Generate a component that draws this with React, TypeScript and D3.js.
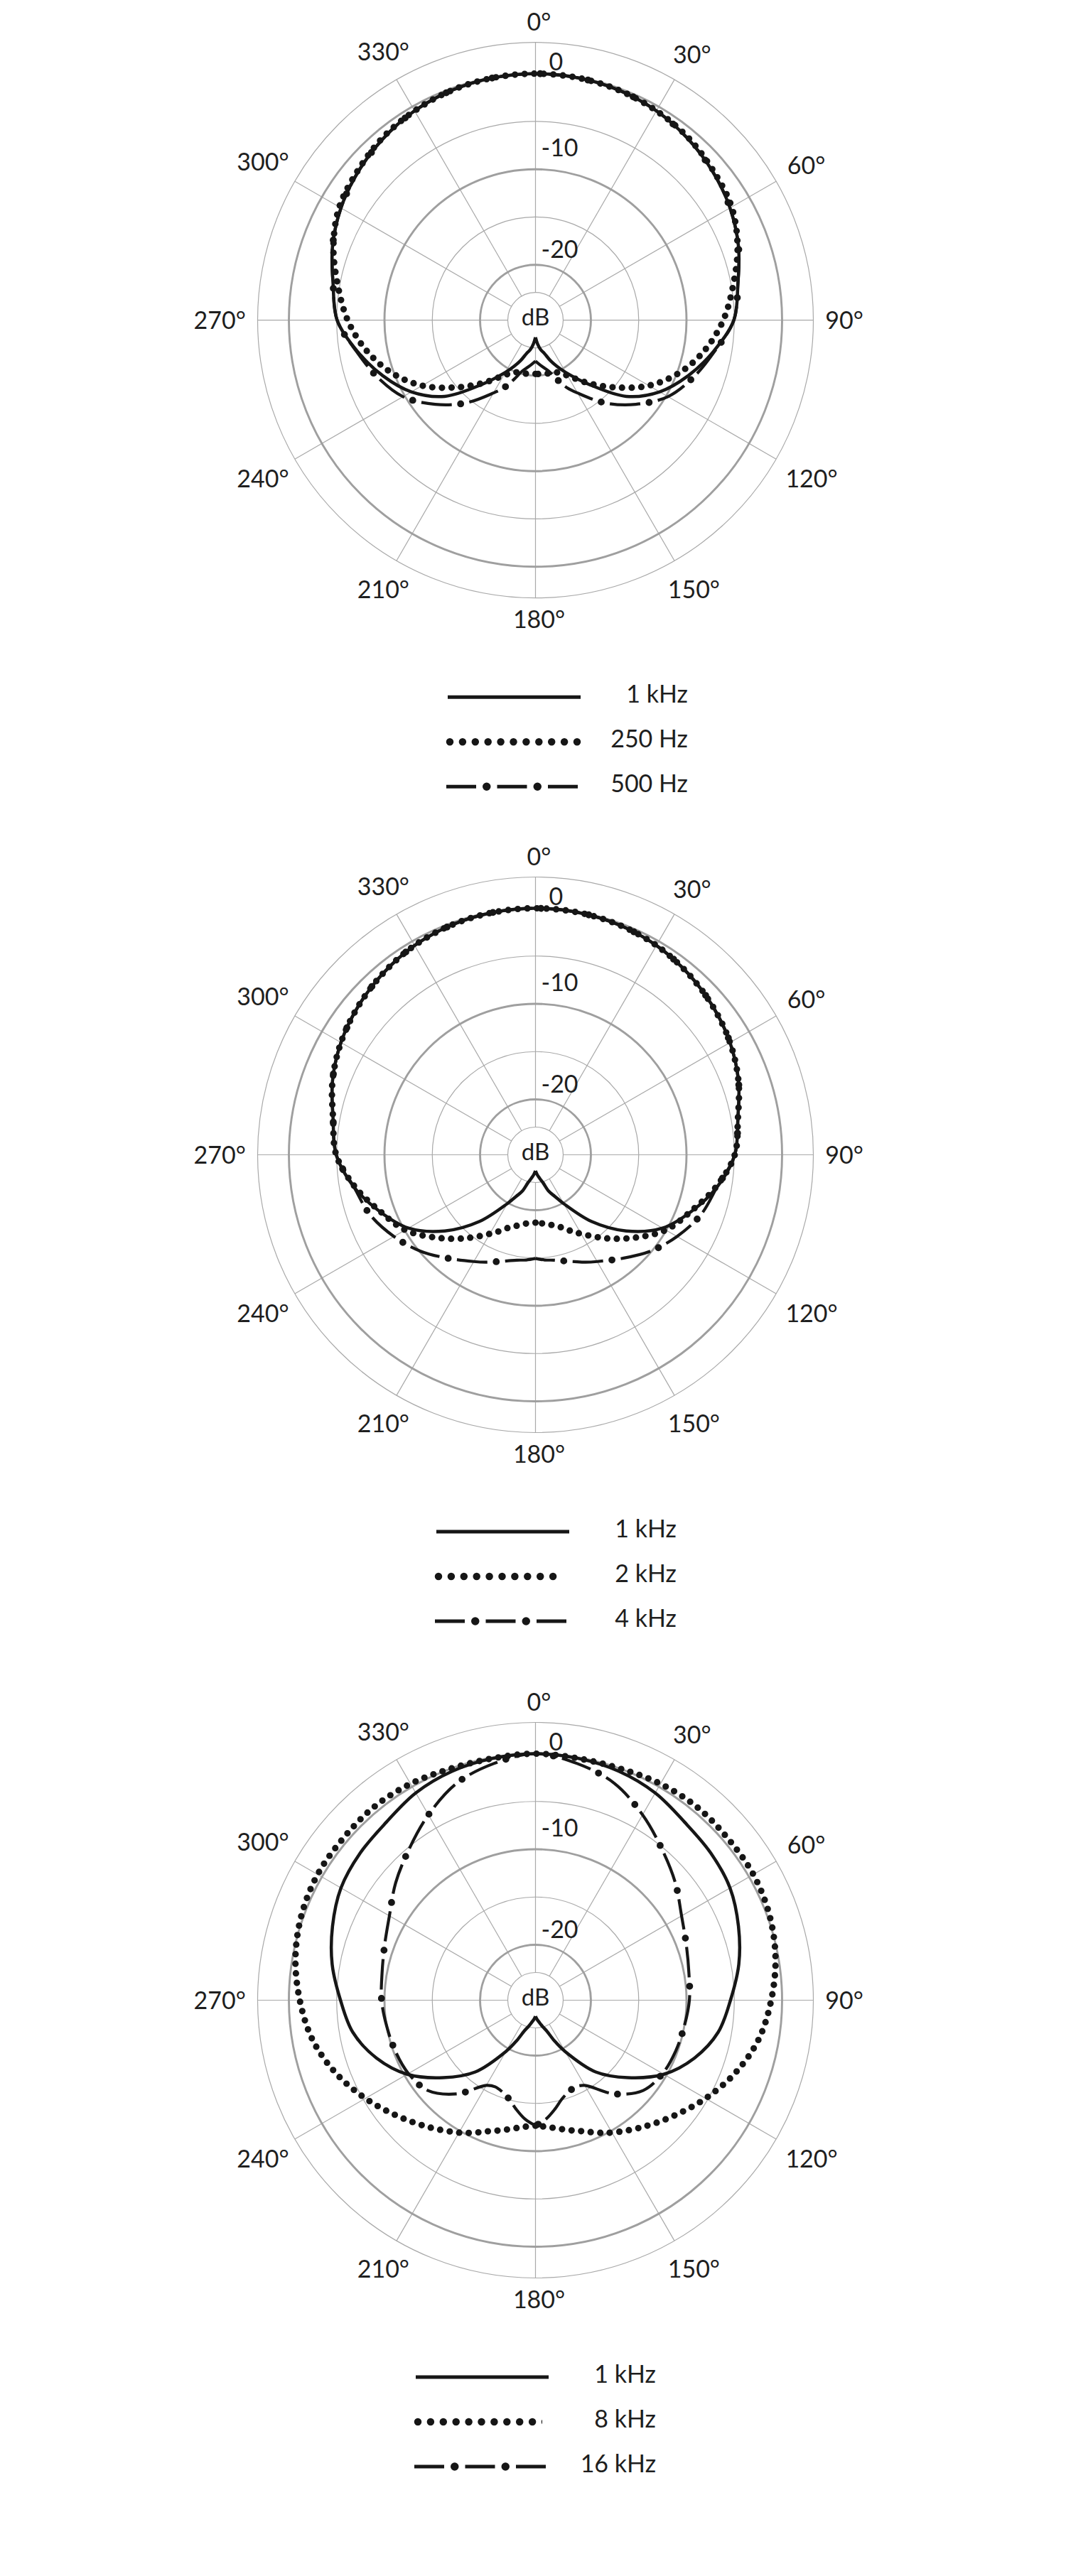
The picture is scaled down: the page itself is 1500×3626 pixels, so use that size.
import React from 'react';
import * as d3 from 'd3';

// ---------- data (dB at each angle, right half; patterns are symmetric) ----------
const ANGLES = [0, 10, 20, 30, 40, 50, 60, 70, 80, 90, 100, 110, 120, 130, 140, 150, 155, 160, 165, 170, 175, 180];

const chart1Freq1k = [0, -0.05, -0.2, -0.5, -1.0, -1.6, -2.3, -3.2, -4.3, -5.05, -6.9, -8.8, -10.8, -13.4, -17.0, -19.5, -20.8, -22.3, -23.8, -24.6, -25.7, -26.9];
const chart1Freq250 = [0, -0.05, -0.2, -0.5, -0.9, -1.5, -2.1, -3.3, -4.8, -6.15, -7.8, -9.75, -12.1, -14.85, -17.2, -19.1, -19.7, -20.0, -20.1, -20.2, -20.25, -20.3];
const chart1Freq500 = [0, -0.05, -0.2, -0.5, -1.0, -1.6, -2.3, -3.2, -4.3, -5.05, -6.8, -8.25, -9.8, -12.1, -14.5, -17.0, -18.0, -19.2, -20.4, -21.3, -22.0, -22.6];

const chart2Freq1k = [0, -0.05, -0.2, -0.5, -1.0, -1.6, -2.3, -3.2, -4.3, -4.95, -6.5, -8.45, -10.45, -13.4, -16.7, -19.9, -21.7, -23.0, -24.8, -25.7, -26.4, -27.1];
const chart2Freq2k = [0, -0.05, -0.2, -0.5, -1.0, -1.6, -2.3, -3.2, -4.3, -4.95, -6.6, -8.5, -10.05, -12.3, -14.4, -16.25, -17.0, -17.7, -18.1, -18.45, -18.6, -18.7];
const chart2Freq4k = [0, -0.05, -0.2, -0.5, -1.0, -1.6, -2.3, -3.2, -4.3, -4.95, -6.5, -7.4, -8.7, -10.1, -11.65, -12.9, -13.4, -13.9, -14.3, -14.6, -14.75, -14.95];

const chart3Freq1k = [0, -0.1, -0.3, -0.75, -1.5, -1.85, -2.3, -3.2, -4.2, -5.4, -6.4, -8.1, -10.3, -13.2, -16.0, -19.6, -21.9, -24.1, -25.1, -25.9, -26.5, -27.1];
const chart3Freq8k = [0, -0.1, 0, 0.35, 0.55, 0.5, 0.52, 0.25, -0.3, -1.14, -2.1, -3.55, -5.25, -6.95, -8.45, -9.8, -10.5, -11.2, -11.7, -12.15, -12.5, -12.66];
const chart3Freq16k = [0, -0.65, -1.65, -3.4, -5.2, -6.7, -8.15, -9.0, -9.5, -9.7, -10.0, -10.2, -10.45, -11.1, -13.0, -15.5, -15.8, -15.6, -15.1, -14.2, -13.3, -12.66];

const LEGEND1 = ['1 kHz', '250 Hz', '500 Hz'];
const LEGEND2 = ['1 kHz', '2 kHz', '4 kHz'];
const LEGEND3 = ['1 kHz', '8 kHz', '16 kHz'];

const ANGLE_TICKS = [0, 30, 60, 90, 120, 150, 180, 210, 240, 270, 300, 330];
const RING_DB = [-25, -20, -15, -10, -5, 0];
const THICK_RINGS = [-20, -10, 0];
const DB_TICKS = [0, -10, -20];

// ---------- layout ----------
const W = 1500;
const H = 3626;
const CX = 753.5;
const OUTER_R = 391;
const FS = 34;
const TEXT = '#1e1e1e';
const INK = '#161616';
const GRID = '#a9a9a9';
const GRID_THICK = '#9f9f9f';
const FONT = 'Lato, "Open Sans", sans-serif';

const rScale = d3.scaleLinear().domain([-30, -20, 0]).range([0, 78, 347]);

type Pt = [number, number];

function seriesPath(values: number[]): string {
  const pts: Pt[] = [];
  for (let i = ANGLES.length - 1; i >= 0; i--) pts.push([360 - ANGLES[i], values[i]]);
  for (let i = 1; i < ANGLES.length; i++) pts.push([360 + ANGLES[i], values[i]]);
  const line = d3
    .lineRadial<Pt>()
    .angle((d) => (d[0] * Math.PI) / 180)
    .radius((d) => rScale(d[1]))
    .curve(d3.curveCatmullRom.alpha(0.5));
  return line(pts) || '';
}

function approxWidth(t: string, fs: number) {
  let w = 0;
  for (const ch of t) {
    if (/[0-9]/.test(ch)) w += 0.58;
    else if (ch === '°') w += 0.4;
    else w += 0.5;
  }
  return w * fs;
}

type Style = 'solid' | 'dot' | 'dashdot';

function Curve({ d, style }: { d: string; style: Style }) {
  if (style === 'solid') return <path d={d} fill="none" stroke={INK} strokeWidth={4.5} strokeLinejoin="round" />;
  if (style === 'dot')
    return <path d={d} fill="none" stroke={INK} strokeWidth={9.2} strokeDasharray="0 13.5" strokeLinecap="round" />;
  const dash = 43;
  const period = 68;
  return (
    <g>
      <path d={d} fill="none" stroke={INK} strokeWidth={4.2} strokeDasharray={`${dash} ${period - dash}`} />
      <path
        d={d}
        fill="none"
        stroke={INK}
        strokeWidth={9.8}
        strokeDasharray={`0 ${period}`}
        strokeDashoffset={period - (dash + (period - dash) / 2)}
        strokeLinecap="round"
      />
    </g>
  );
}

function LegendSample({ x, y, style }: { x: number; y: number; style: Style }) {
  if (style === 'solid') return <line x1={x} x2={x + 187} y1={y} y2={y} stroke={INK} strokeWidth={5} />;
  if (style === 'dot')
    return (
      <line x1={x + 3} x2={x + 182} y1={y} y2={y} stroke={INK} strokeWidth={10.5} strokeDasharray="0 17.9" strokeLinecap="round" />
    );
  const dash = 42;
  const period = 71.5;
  return (
    <g>
      <line x1={x - 2} x2={x + 184} y1={y} y2={y} stroke={INK} strokeWidth={5} strokeDasharray={`${dash} ${period - dash}`} />
      <line
        x1={x - 2}
        x2={x + 184}
        y1={y}
        y2={y}
        stroke={INK}
        strokeWidth={11.5}
        strokeDasharray={`0 ${period}`}
        strokeDashoffset={period - (dash + (period - dash) / 2)}
        strokeLinecap="round"
      />
    </g>
  );
}

const STYLES: Style[] = ['solid', 'dot', 'dashdot'];
const LEGEND_ROWS = [530.5, 593.5, 656.5];
const DB_LABEL_DX = [19, 8, 8];
const DB_LABEL_GAP = [5, 18, 10];

function PolarChart({ cy, series, labels, legendDx }: { cy: number; series: number[][]; labels: string[]; legendDx: number }) {
  const innerR = rScale(-25);
  const legendX = CX + legendDx;
  return (
    <g>
      <g transform={`translate(${CX},${cy})`}>
        {ANGLE_TICKS.map((a) => {
          const t = (a * Math.PI) / 180;
          const s = Math.sin(t);
          const c = Math.cos(t);
          return (
            <line
              key={'sp' + a}
              x1={innerR * s}
              y1={-innerR * c}
              x2={OUTER_R * s}
              y2={-OUTER_R * c}
              stroke={GRID}
              strokeWidth={1.2}
            />
          );
        })}
        {RING_DB.map((v) => (
          <circle
            key={'r' + v}
            r={rScale(v)}
            fill="none"
            stroke={THICK_RINGS.includes(v) ? GRID_THICK : GRID}
            strokeWidth={THICK_RINGS.includes(v) ? 2.9 : 1.2}
          />
        ))}
        <circle r={OUTER_R} fill="none" stroke={GRID} strokeWidth={1.2} />
        {series.map((vals, i) => (
          <Curve key={'c' + i} d={seriesPath(vals)} style={STYLES[i]} />
        ))}
        {DB_TICKS.map((v, i) => (
          <text
            key={'db' + v}
            x={DB_LABEL_DX[i]}
            y={-(rScale(v) + DB_LABEL_GAP[i])}
            fontSize={FS}
            fontFamily={FONT}
            fill={TEXT}
          >
            {String(v)}
          </text>
        ))}
        <text x={0} y={7.6} textAnchor="middle" fontSize={FS - 1} fontFamily={FONT} fill={TEXT}>
          dB
        </text>
        {ANGLE_TICKS.map((a) => {
          const t = (a * Math.PI) / 180;
          const s = Math.sin(t);
          const c = Math.cos(t);
          const label = `${a}°`;
          const w = approxWidth(label, FS);
          const h = 25;
          const ext = (Math.abs(s) * w) / 2 + (Math.abs(c) * h) / 2;
          const R = 408 + ext;
          const x = R * s + 5 * Math.abs(c);
          const y = -R * c + h / 2;
          return (
            <text key={'al' + a} x={x} y={y} textAnchor="middle" fontSize={FS} fontFamily={FONT} fill={TEXT}>
              {label}
            </text>
          );
        })}
      </g>
      {labels.map((lab, i) => {
        const y = cy + LEGEND_ROWS[i];
        return (
          <g key={'lg' + i}>
            <LegendSample x={legendX} y={y} style={STYLES[i]} />
            <text x={legendX + 338} y={y + 8} textAnchor="end" fontSize={FS} fontFamily={FONT} fill={TEXT}>
              {lab}
            </text>
          </g>
        );
      })}
    </g>
  );
}

export default function App() {
  return (
    <svg
      width={W}
      height={H}
      viewBox={`0 0 ${W} ${H}`}
      style={{ position: 'absolute', left: 0, top: 0, background: '#fff' }}
    >
      <rect width={W} height={H} fill="#fff" />
      <PolarChart cy={450.7} series={[chart1Freq1k, chart1Freq250, chart1Freq500]} labels={LEGEND1} legendDx={-123.5} />
      <PolarChart cy={1625.5} series={[chart2Freq1k, chart2Freq2k, chart2Freq4k]} labels={LEGEND2} legendDx={-139.5} />
      <PolarChart cy={2815.5} series={[chart3Freq1k, chart3Freq8k, chart3Freq16k]} labels={LEGEND3} legendDx={-168.5} />
    </svg>
  );
}
